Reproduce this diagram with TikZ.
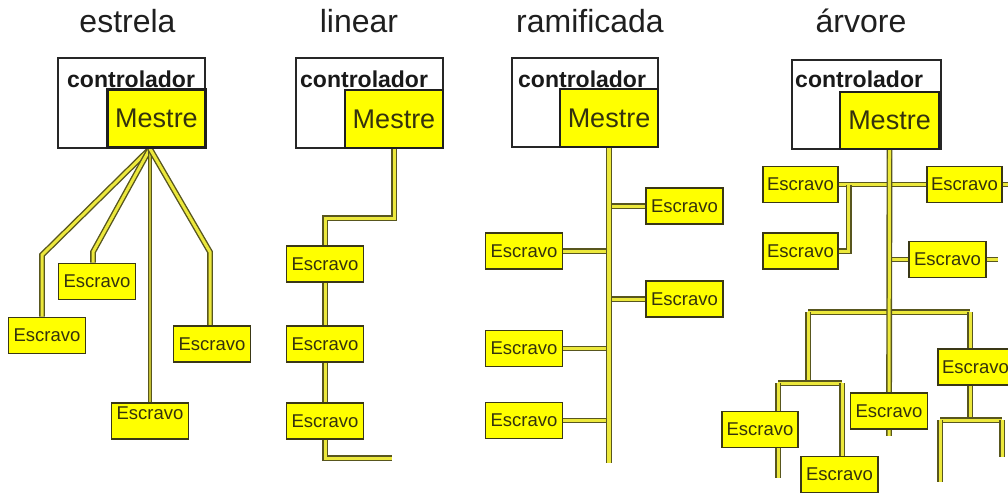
\documentclass[tikz,border=0pt]{standalone}
\usepackage{fontspec}
\setmainfont{Liberation Sans}
\usetikzlibrary{backgrounds}
\definecolor{busedge}{RGB}{88,86,30}
\definecolor{busfill}{RGB}{236,232,60}
\definecolor{boxedge}{RGB}{58,56,22}
\definecolor{labeltext}{RGB}{52,50,14}
\definecolor{slavefill}{RGB}{255,255,0}
\begin{document}
\begin{tikzpicture}[x=1pt,y=-1pt,
  title/.style={font=\fontsize{32}{34}\selectfont, text=black!88, anchor=base, inner sep=0},
  ctrlbox/.style={draw=black!85, line width=1.2, fill=white, minimum width=147, minimum height=90, inner sep=0},
  ctrltext/.style={font=\bfseries\fontsize{23}{25}\selectfont, text=black!90, anchor=base west, inner sep=0},
  master/.style={draw=black!88, line width=2.4, fill=slavefill, minimum width=98, minimum height=58, inner sep=0,
    font=\fontsize{27}{29}\selectfont, text=labeltext},
  slave/.style={draw=boxedge, line width=1.8, fill=slavefill, minimum width=77, minimum height=36, inner sep=0,
    font=\fontsize{18.5}{20}\selectfont, text=labeltext},
  bus/.style={draw=busedge, line width=1.4, double=busfill, double distance=3},
  thinbus/.style={draw=busedge, line width=1.3, double=busfill!70!busedge, double distance=1.6},
]
\useasboundingbox (0,0) rectangle (1008,495);
\clip (0,0) rectangle (1008,495);

% ---------- titles ----------
\node[title] (t1) at (127.5,33) {estrela};
\node[title] (t2) at (359,33) {linear};
\node[title] (t3) at (590,33) {ramificada};
\node[title] (t4) at (861,33) {árvore};

% ---------- controllers with their master units ----------
\node[ctrlbox] (c1) at (131.5,103) {};
\node[ctrltext] (c1t) at (67,87) {controlador};
\node[master] (m1) at (156.5,118.5) {Mestre};

\node[ctrlbox] (c2) at (369.5,103) {};
\node[ctrltext] (c2t) at (300,87) {controlador};
\node[master] (m2) at (394,119) {Mestre};

\node[ctrlbox, minimum width=146, minimum height=89] (c3) at (585,102.5) {};
\node[ctrltext] (c3t) at (518,87) {controlador};
\node[master] (m3) at (609,118) {Mestre};

\node[ctrlbox, minimum width=149, minimum height=89] (c4) at (866.5,104.5) {};
\node[ctrltext] (c4t) at (795,87) {controlador};
\node[master, minimum width=99, minimum height=57] (m4) at (889.5,120.5) {Mestre};

% ---------- star ----------
\node[slave] (e1) at (47,335.5) {Escravo};
\node[slave] (e2) at (97,281.5) {Escravo};
\node[slave, text depth=16] (e3) at (150,421) {Escravo};
\node[slave] (e4) at (212,344) {Escravo};
\coordinate (hub) at ([xshift=-6.5]m1.south);

% ---------- line ----------
\node[slave] (l1) at (325,264) {Escravo};
\node[slave] (l2) at (325,344) {Escravo};
\node[slave] (l3) at (325,421) {Escravo};
\coordinate (lend) at (392,458);

% ---------- branched ----------
\node[slave] (r1) at (684.5,206) {Escravo};
\node[slave] (r2) at (524,251) {Escravo};
\node[slave] (r3) at (684.5,299) {Escravo};
\node[slave] (r4) at (524,348.5) {Escravo};
\node[slave] (r5) at (524,420.5) {Escravo};
\coordinate (rend) at (609,463);

% ---------- tree ----------
\node[slave, minimum width=75] (a1) at (800.5,184.5) {Escravo};
\node[slave, minimum width=75] (a2) at (964.5,184.5) {Escravo};
\node[slave, minimum width=75] (a3) at (800.5,251) {Escravo};
\node[slave] (a4) at (947.5,259.5) {Escravo};
\node[slave, minimum width=75] (a5) at (975.5,367) {Escravo};
\node[slave, minimum width=76] (a6) at (760,429.5) {Escravo};
\node[slave] (a7) at (839.5,474.5) {Escravo};
\node[slave] (a8) at (889,411) {Escravo};
\coordinate (tl) at (808,312);
\coordinate (tr) at (970,312);
\coordinate (sl) at (778,383);
\coordinate (sr) at (842,383);
\coordinate (ql) at (940,420);
\coordinate (qr) at (1002,420);

\begin{pgfonlayer}{background}
  % star cabling
  \draw[bus] (hub) -- (42,255) -- (42,0 |- e1.north);
  \draw[bus] (hub) -- (93,252) -- (93,0 |- e2.north);
  \draw[thinbus] (hub) -- (e3.north);
  \draw[bus] (hub) -- (210,252) -- (210,0 |- e4.north);

  % line cabling
  \draw[bus] (m2.south) |- (325,218) -- (l1.north);
  \draw[bus] (l1.south) -- (l2.north);
  \draw[bus] (l2.south) -- (l3.north);
  \draw[bus] (l3.south) |- (lend);

  % branched cabling
  \foreach \s in {r1,r2,r3,r4,r5}
    \draw[bus] (\s.center) -- (\s.center -| m3.south);
  \draw[bus, double distance=3.4] (m3.south) -- (rend);

  % tree cabling
  \draw[bus] (a1.east) -- (a2.east) -- ++(6,0);
  \draw[bus] (a3.east) -| ([xshift=10]a1.east);
  \draw[bus] (m4.south |- a4.west) -- (a4.east) -- ++(11,0);
  \draw[bus] (tl) -- (tr);
  \draw[bus] (tl) -- (808,383);
  \draw[bus] (sl) -- (sr);
  \draw[bus] (sl) -- (778,478);
  \draw[bus] (sr) -- (842,0 |- a7.north);
  \draw[bus] (tr) -- (970,420);
  \draw[bus] (ql) -- (qr);
  \draw[bus] (ql) -- (940,482);
  \draw[bus] (qr) -- (1002,457);
  \draw[bus] (m4.south) -- (a8.south) -- ++(0,6);
\end{pgfonlayer}
\end{tikzpicture}
\end{document}
